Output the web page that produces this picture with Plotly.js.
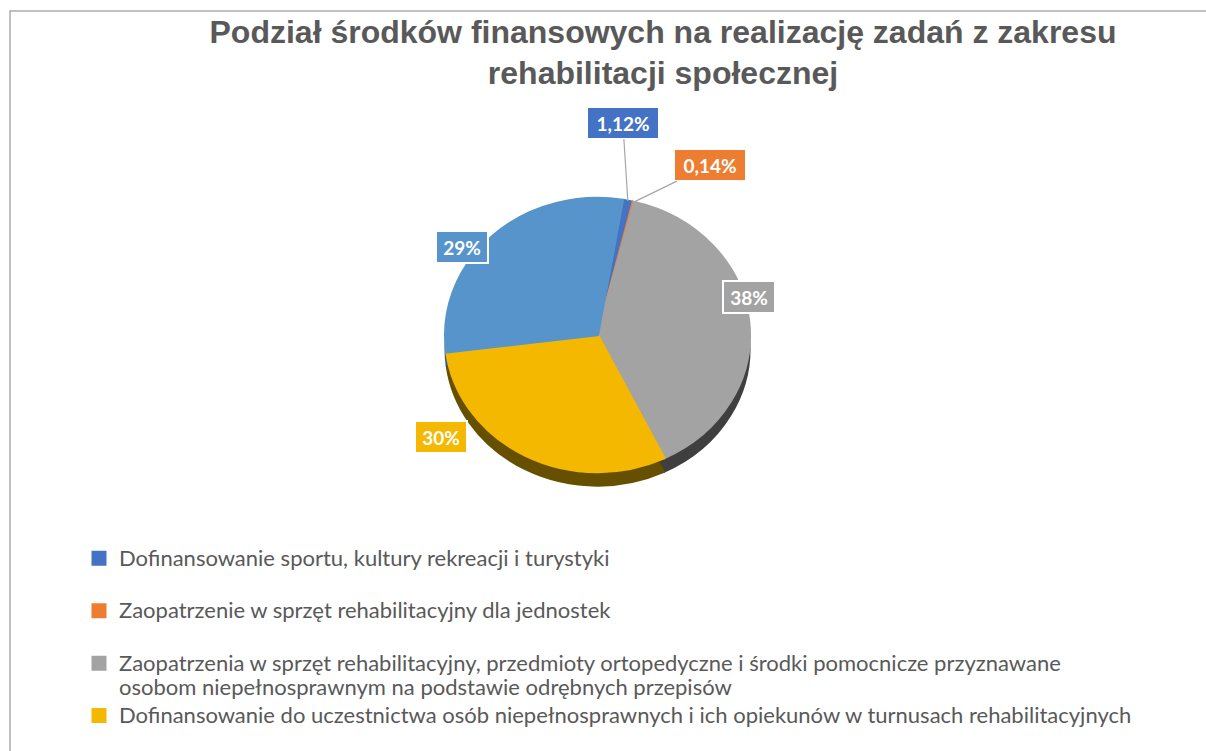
<!DOCTYPE html>
<html><head><meta charset="utf-8">
<script src="https://cdn.plot.ly/plotly-3.0.1.min.js"></script>
<style>html,body{margin:0;padding:0;background:#fff}#chart{width:1206px;height:751px}</style>
</head><body><div id="chart"></div>
<script>
// ---- data ----
const categories = [
  'Dofinansowanie sportu, kultury rekreacji i turystyki',
  'Zaopatrzenie w sprzęt rehabilitacyjny dla jednostek',
  'Zaopatrzenia w sprzęt rehabilitacyjny, przedmioty ortopedyczne i środki pomocnicze przyznawane osobom niepełnosprawnym na podstawie odrębnych przepisów',
  'Dofinansowanie do uczestnictwa osób niepełnosprawnych i ich opiekunów w turnusach rehabilitacyjnych',
  'Dofinansowanie likwidacji barier architektonicznych, w komunikowaniu się i technicznych'
];
const shares = [1.12, 0.14, 38.9, 30.2, 29.64];
const labelTexts = ['1,12%', '0,14%', '38%', '30%', '29%'];
const chartTitle = 'Podział środków finansowych na realizację zadań z zakresu<br>rehabilitacji społecznej';

// ---- style ----
const colors = ['#4472c4', '#ed7d31', '#a3a3a3', '#f4b800', '#5694cb'];
const sideColors = ['#2b4a85', '#8f4a1c', '#3f3f3f', '#665000', '#2f5a82'];
const W = 1206, H = 751;
const CX = 597.5, CY = 335, R = 152, SQ = 0.9, DEPTH = 15.5, ROT = 9.5;

const big = s => '<span style="font-size:22px">' + s + '</span>';
const legendNames = categories.map((c, i) => i === 2
  ? c.split(' osobom').map((p, k) => big(k ? 'osobom' + p : p)).join('<br>')
  : big(c) + '<br> ');

const dom = {x: [(CX - R) / W, (CX + R) / W], y: [1 - (CY + R) / H, 1 - (CY - R) / H]};
const domDepth = {x: dom.x, y: [dom.y[0] - DEPTH / H, dom.y[1] - DEPTH / H]};

const depthTrace = {
  type: 'pie', labels: legendNames, values: shares, sort: false, direction: 'clockwise', rotation: ROT,
  domain: domDepth, textinfo: 'none', showlegend: false, hoverinfo: 'skip',
  marker: {colors: sideColors, line: {color: sideColors, width: 2}}
};
const mainTrace = {
  type: 'pie', labels: legendNames, values: shares, sort: false, direction: 'clockwise', rotation: ROT,
  domain: dom, textinfo: 'none', hoverinfo: 'label+percent',
  marker: {colors: colors, line: {color: colors, width: 3}}
};

// label placement (pixel offsets of the box centre from the slice's edge point)
const labelOffsets = [[-5, -78, true], [76, -37, true], [0, -24, false], [-84, -18, false], [-30, -6, false]];
const total = shares.reduce((a, b) => a + b, 0);
let acc = 0;
const annotations = shares.map((v, i) => {
  const mid = (ROT + (acc + v / 2) / total * 360) * Math.PI / 180;
  acc += v;
  const px = CX + R * Math.sin(mid);
  const py = CY - SQ * R * Math.cos(mid);
  const [dx, dy, arrow] = labelOffsets[i];
  const a = {
    xref: 'paper', yref: 'paper', x: px / W, y: 1 - py / H,
    text: labelTexts[i], font: {family: 'Lato', size: 19, color: '#ffffff', weight: 'bold'},
    bgcolor: colors[i], bordercolor: '#ffffff', borderwidth: 2, borderpad: 3,
    width: labelTexts[i].length > 3 ? 64 : 44, height: 24, align: 'center', valign: 'middle'
  };
  if (arrow) {
    Object.assign(a, {showarrow: true, arrowhead: 0, arrowwidth: 1.2, arrowcolor: '#a6a6a6', ax: dx, ay: dy, standoff: 0});
  } else {
    Object.assign(a, {showarrow: false, xshift: dx, yshift: -dy});
  }
  return a;
});

const layout = {
  width: W, height: H,
  margin: {l: 0, r: 0, t: 0, b: 0, autoexpand: false},
  paper_bgcolor: '#ffffff', plot_bgcolor: '#ffffff',
  title: {
    text: chartTitle, xref: 'paper', x: 663 / W, xanchor: 'center',
    yref: 'container', y: 0.943, yanchor: 'top',
    font: {family: 'Liberation Sans, Arial, sans-serif', size: 32, color: '#595959', weight: 'bold'}
  },
  showlegend: true,
  legend: {
    x: 79 / W, xanchor: 'left', y: 1 - 539.5 / H, yanchor: 'top',
    font: {family: 'Lato, sans-serif', size: 19, color: '#595959'},
    valign: 'top', bgcolor: 'rgba(0,0,0,0)', borderwidth: 0, traceorder: 'normal', itemwidth: 30
  },
  annotations: annotations,
  shapes: [{
    type: 'rect', xref: 'paper', yref: 'paper', layer: 'below',
    x0: 10 / W, x1: 1.05, y0: -0.05, y1: 1 - 11 / H,
    line: {color: '#acacac', width: 1.5}, fillcolor: 'rgba(0,0,0,0)'
  }]
};

Plotly.newPlot('chart', [depthTrace, mainTrace], layout, {staticPlot: true, displayModeBar: false}).then(gd => {
  const pl = gd.querySelector('.pielayer');
  if (pl) pl.setAttribute('transform', 'translate(0,' + (CY * (1 - SQ)) + ') scale(1,' + SQ + ')');
});
</script>
</body></html>
